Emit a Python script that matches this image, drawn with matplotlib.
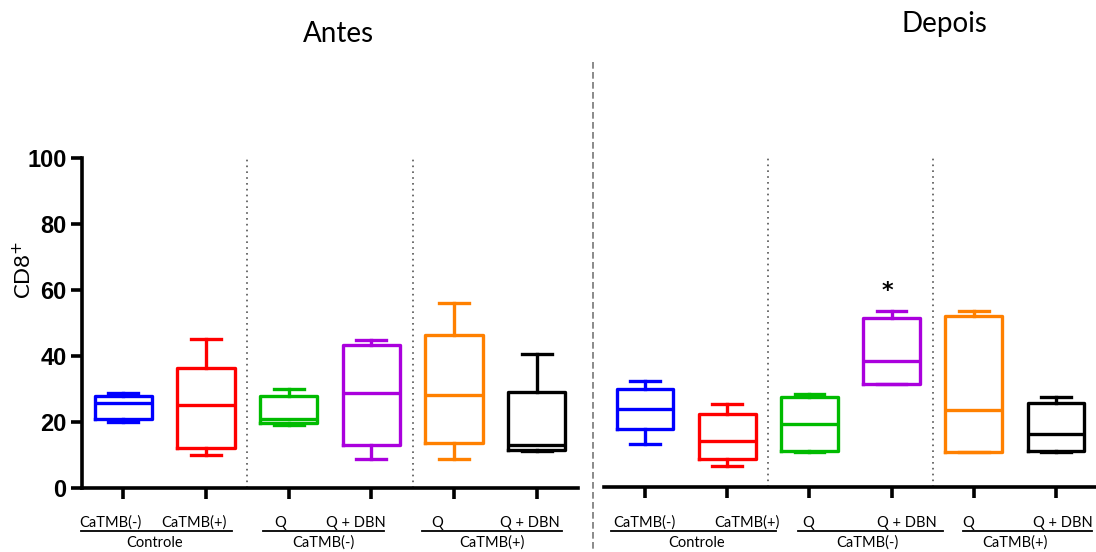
import matplotlib.pyplot as plt
from matplotlib.lines import Line2D

plt.rcParams['font.family'] = ['Lato', 'DejaVu Sans']

# ---------------------------
# data (whisker low, Q1, median, Q3, whisker high)
# ---------------------------
colors = ["#0000ff", "#ff0000", "#00bb00", "#aa00dd", "#ff8000", "#000000"]

antes_low = [20.1, 10.0, 19.1, 8.7, 8.7, 11.1]
antes_q1 = [20.8, 12.0, 19.8, 13.0, 13.7, 11.5]
antes_med = [25.8, 25.1, 21.0, 28.8, 28.2, 13.0]
antes_q3 = [27.9, 36.4, 27.9, 43.4, 46.3, 29.2]
antes_high = [28.8, 45.2, 29.9, 44.8, 56.2, 40.5]

depois_low = [13.0, 6.4, 10.7, 31.2, 10.5, 10.5]
depois_q1 = [17.5, 8.5, 11.0, 31.2, 10.5, 11.0]
depois_med = [23.6, 14.0, 19.2, 38.3, 23.3, 16.0]
depois_q3 = [29.8, 22.1, 27.5, 51.5, 52.0, 25.5]
depois_high = [32.2, 25.1, 28.2, 53.5, 53.6, 27.5]

signif_depois = ["", "", "", "*", "", ""]

sub_labels = ["CaTMB(-)", "CaTMB(+)", "Q", "Q + DBN", "Q", "Q + DBN"]
group_labels = ["Controle", "CaTMB(-)", "CaTMB(+)"]
yticks = [0, 20, 40, 60, 80, 100]

W, H = 1096, 552
fig = plt.figure(figsize=(W / 100, H / 100), dpi=100)


def px_axes(x0, x1, ytop, ybot):
    return fig.add_axes([x0 / W, 1 - ybot / H, (x1 - x0) / W, (ybot - ytop) / H])


def draw_boxes(ax, low, q1, med, q3, high):
    for i in range(len(low)):
        st = [dict(whislo=low[i], q1=q1[i], med=med[i], q3=q3[i], whishi=high[i])]
        c = colors[i]
        ax.bxp(st, positions=[i], widths=0.69, showfliers=False, capwidths=0.36,
               boxprops=dict(color=c, lw=2.4),
               medianprops=dict(color=c, lw=2.4),
               whiskerprops=dict(color=c, lw=2.4),
               capprops=dict(color=c, lw=2.4))
    ax.set_xlim(-0.5, 5.5)
    ax.set_ylim(0, 100)
    ax.set_xticks(range(6))
    ax.set_xticklabels([])
    for s in ["top", "right"]:
        ax.spines[s].set_visible(False)
    ax.spines["bottom"].set_linewidth(2.6)
    ax.spines["left"].set_linewidth(2.6)
    ax.tick_params(axis="x", direction="out", length=8, width=2.6)
    for xs in [1.5, 3.5]:
        ax.axvline(xs, color="#555555", lw=1.2, ls=(0, (1, 2.5)), zorder=0)


ax1 = px_axes(82, 578, 158, 488)
draw_boxes(ax1, antes_low, antes_q1, antes_med, antes_q3, antes_high)
ax1.set_yticks(yticks)
ax1.tick_params(axis="y", direction="out", length=8, width=2.6, pad=3)
for t in ax1.get_yticklabels():
    t.set_fontfamily("Liberation Sans")
    t.set_fontweight("bold")
    t.set_fontsize(17)
fig.text(23 / W, 1 - 270 / H, "CD8$^{+}$", rotation=90, ha="center", va="center",
         fontsize=16)

ax2 = px_axes(604, 1097, 158, 487)
draw_boxes(ax2, depois_low, depois_q1, depois_med, depois_q3, depois_high)
ax2.spines["left"].set_visible(False)
ax2.set_yticks([])
for i, s in enumerate(signif_depois):
    if s:
        ax2.text(i - 0.05, depois_high[i] + 3, s, ha="center", va="bottom",
                 fontsize=16, fontweight="bold", family="DejaVu Sans")

# titles and panel separator
fig.text(338 / W, 1 - 34 / H, "Antes", ha="center", va="center", fontsize=20)
fig.text(944 / W, 1 - 24 / H, "Depois", ha="center", va="center", fontsize=20)
fig.add_artist(Line2D([593 / W, 593 / W], [1 - 62 / H, 0], transform=fig.transFigure,
                      color="#777777", lw=1.2, ls=(0, (4, 2))))

# category labels under the axes
def label_row(sub_x, lines, group_x):
    for x, s in zip(sub_x, sub_labels):
        fig.text(x / W, 1 - 523 / H, s, ha="center", va="center", fontsize=10.5)
    for (a, b), gx, g in zip(lines, group_x, group_labels):
        fig.add_artist(Line2D([a / W, b / W], [1 - 531 / H] * 2, transform=fig.transFigure,
                              color="black", lw=1.3))
        fig.text(gx / W, 1 - 543 / H, g, ha="center", va="center", fontsize=10.5)


label_row([110, 194, 280, 356, 437, 530],
          [(81, 232), (263, 384), (422, 562)], [155, 323, 492])
label_row([644, 747, 808, 907, 968, 1063],
          [(611, 776), (798, 943), (963, 1092)], [697, 867, 1015])

fig.savefig("out.png", dpi=100)
